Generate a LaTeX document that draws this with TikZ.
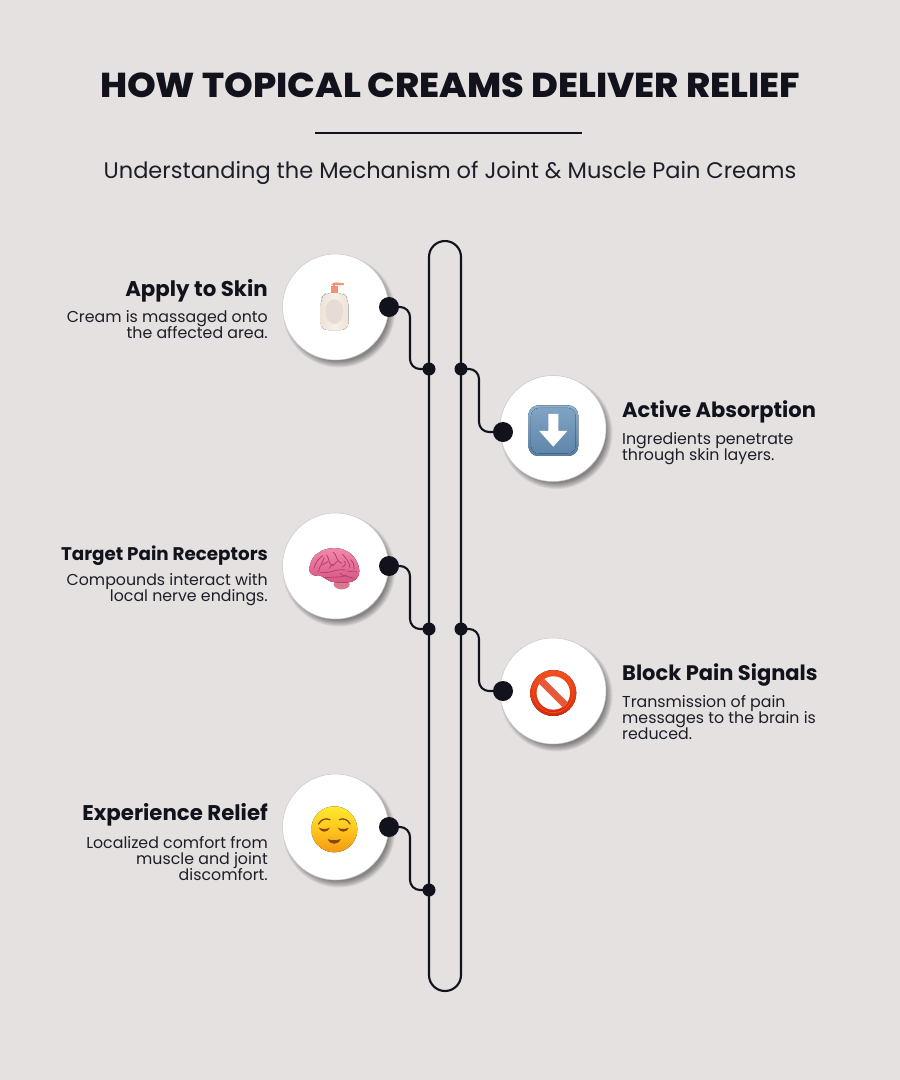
\documentclass[tikz,border=0pt]{standalone}
\usepackage{fontspec}
\setmainfont{Poppins}[BoldFont={Poppins Bold}]
\newfontfamily\titlefont{Poppins ExtraBold}[FakeStretch=1.06]
\usetikzlibrary{calc}
\newcommand{\bodyfont}{\fontsize{15.8}{16}\selectfont\setlength{\lineskiplimit}{-10pt}}
\definecolor{bg}{HTML}{E5E1E0}
\definecolor{ink}{HTML}{12121C}
\definecolor{txt}{HTML}{1E1E28}
\definecolor{brn}{HTML}{84480A}
\definecolor{fold}{HTML}{B0426A}
\definecolor{creamA}{HTML}{EDE4D8}
\definecolor{creamB}{HTML}{F6F0E8}
\definecolor{creamC}{HTML}{E6DCD5}
\definecolor{pump}{HTML}{EE9475}
\definecolor{keyA}{HTML}{8FB0CE}
\definecolor{keyB}{HTML}{567DA2}
\definecolor{keyC}{HTML}{7FA3C3}
\definecolor{keyD}{HTML}{5F86AA}
\definecolor{brA}{HTML}{D9788E}
\definecolor{brB}{HTML}{F28AAC}
\definecolor{brC}{HTML}{D85484}
\definecolor{noA}{HTML}{F4501E}
\definecolor{noB}{HTML}{D42A0C}
\definecolor{noC}{HTML}{E8583A}
\definecolor{faceA}{HTML}{FFE92F}
\definecolor{faceB}{HTML}{F29A12}
\definecolor{faceC}{HTML}{FFC61E}
\tikzset{
  conn/.style={draw=ink,line width=2.1pt,rounded corners=10pt},
  track/.style={draw=ink,line width=2.1pt,rounded corners=16pt,minimum width=32pt,minimum height=750pt,inner sep=0pt,outer sep=0pt},
  dotbig/.style={circle,fill=ink,minimum size=20pt,inner sep=0pt},
  dotsmall/.style={circle,fill=ink,minimum size=13pt,inner sep=0pt},
  disc/.style={circle,fill=white,draw=black!22,line width=.5pt,minimum size=106pt,inner sep=0pt},
  head/.style={font=\bfseries\fontsize{21}{24}\selectfont,text=ink,inner sep=0pt},
  body/.style={font=\bodyfont,text=txt,inner sep=0pt},
  lhead/.style={head,anchor=east},
  rhead/.style={head,anchor=west},
  lbody/.style={body,anchor=north east,align=right},
  rbody/.style={body,anchor=north west,align=left},
  zoomed/.style={x=.3333pt,y=-.3333pt},
  foldline/.style={draw=fold,line width=.8pt,line cap=round},
}
\newcommand{\softshadow}[2]{%
  \foreach \r in {56,55,...,50}{\fill[black,opacity=.07] (#1+3.5,#2+4.5) circle (\r pt);}%
}
\begin{document}
\begin{tikzpicture}[x=1pt,y=-1pt]
\useasboundingbox (0,0) rectangle (900,1080);
\fill[bg] (0,0) rectangle (900,1080);
% titles
\node[font=\titlefont\fontsize{34.5}{38}\selectfont,text=ink,inner sep=0pt] (title) at (450,85) {HOW TOPICAL CREAMS DELIVER RELIEF};
\coordinate (ruleL) at (315,132.5);
\coordinate (ruleR) at (582,132.5);
\draw[ink,line width=2pt] (ruleL) -- (ruleR);
\node[font=\fontsize{22.5}{26}\selectfont,text=txt,inner sep=0pt] (subtitle) at (450,172.5) {Understanding the Mechanism of Joint \& Muscle Pain Creams};
% track
\node[track] (trk) at (445,616) {};
% shadows and discs
\softshadow{335.5}{307}
\softshadow{553}{428.5}
\softshadow{335.5}{566}
\softshadow{553}{691}
\softshadow{335.5}{827}
\node[disc] (c1) at (335.5,307) {};
\node[disc] (c2) at (553,428.5) {};
\node[disc] (c3) at (335.5,566) {};
\node[disc] (c4) at (553,691) {};
\node[disc] (c5) at (335.5,827) {};
% dots
\node[dotbig] (d1) at (389,307) {};
\node[dotbig] (d2) at (503,432) {};
\node[dotbig] (d3) at (389,566) {};
\node[dotbig] (d4) at (503,691) {};
\node[dotbig] (d5) at (389,827) {};
\node[dotsmall] (j1) at (429,369) {};
\node[dotsmall] (j2) at (461,369) {};
\node[dotsmall] (j3) at (429,629) {};
\node[dotsmall] (j4) at (461,629) {};
\node[dotsmall] (j5) at (429,890) {};
\coordinate (b1) at (410,369);
\coordinate (b2) at (479,369);
\coordinate (b3) at (410,629);
\coordinate (b4) at (479,629);
\coordinate (b5) at (410,890);
\draw[conn] (d1.center) -| (b1) -- (j1.center);
\draw[conn] (j2.center) -| (b2 |- d2) -- (d2.center);
\draw[conn] (d3.center) -| (b3) -- (j3.center);
\draw[conn] (j4.center) -| (b4 |- d4) -- (d4.center);
\draw[conn] (d5.center) -| (b5) -- (j5.center);
% bottle
\begin{scope}[shift={(300,275)},zoomed]
  \fill[left color=creamA,right color=creamA,middle color=creamB,rounded corners=7pt]
    (78,53) -- (128,53) -- (145,70) -- (145,165) -- (62,165) -- (62,70) -- cycle;
  \fill[creamC] (103,110) ellipse (27 and 37);
  \fill[pump] (93,55) rectangle (113,34);
  \fill[pump] (99,34) rectangle (106,24);
  \fill[pump] (95,27) -- (106,22) -- (132,25) -- (132,30) -- (108,30) -- (95,30) -- cycle;
\end{scope}
% arrow key
\begin{scope}[shift={(270,230)},zoomed]
  \fill[top color=keyA,bottom color=keyB,rounded corners=10pt] (775,526) rectangle (925,678);
  \fill[top color=keyC,bottom color=keyD,rounded corners=8pt] (783,534) rectangle (917,670);
  \fill[white] (835,552) -- (865,552) -- (865,603) -- (892,603) -- (850,650) -- (808,603) -- (835,603) -- cycle;
\end{scope}
% brain
\begin{scope}[shift={(300,535)},zoomed]
  \fill[brA] (125,148) ellipse (24 and 15);
  \fill[top color=brB,bottom color=brC]
    (28,105) .. controls (28,85) and (40,58) .. (58,52)
    .. controls (75,38) and (115,35) .. (135,46)
    .. controls (160,55) and (178,85) .. (178,108)
    .. controls (178,130) and (160,145) .. (140,142)
    .. controls (115,143) and (90,143) .. (78,132)
    .. controls (65,125) and (60,118) .. (48,122)
    .. controls (38,122) and (28,115) .. (28,105) -- cycle;
  \draw[foldline] (42,100) .. controls (45,85) and (55,70) .. (68,62);
  \draw[foldline] (55,110) .. controls (58,95) and (70,80) .. (72,68);
  \draw[foldline] (62,112) .. controls (85,118) and (110,100) .. (135,105);
  \draw[foldline] (80,60) .. controls (90,75) and (85,90) .. (100,92);
  \draw[foldline] (100,52) .. controls (112,60) and (105,75) .. (125,85);
  \draw[foldline] (128,58) .. controls (138,70) and (148,80) .. (150,98);
  \draw[foldline] (75,128) .. controls (95,125) and (120,130) .. (140,120);
  \draw[foldline] (142,108) .. controls (155,112) and (165,105) .. (170,112);
  \draw[foldline] (120,115) .. controls (130,125) and (150,125) .. (160,130);
  \draw[foldline] (88,100) .. controls (92,88) and (104,92) .. (112,78);
  \draw[foldline] (66,90) .. controls (72,82) and (78,88) .. (84,80);
  \draw[foldline] (132,78) .. controls (140,85) and (136,92) .. (126,96);
  \draw[foldline] (152,74) .. controls (160,82) and (164,92) .. (162,102);
\end{scope}
% no entry
\begin{scope}[shift={(270,500)},zoomed]
  \fill[top color=noA,bottom color=noB] (850,579) circle (69);
  \fill[white] (850,579) circle (50);
  \draw[noC,line width=7pt] (813,542) -- (887,616);
  \draw[noA,line width=.7pt] (850,579) circle (59);
\end{scope}
% face
\begin{scope}[shift={(300,795)},zoomed]
  \fill[top color=faceA,bottom color=faceB,middle color=faceC] (103,103) circle (69);
  \draw[brn,line width=1.3pt,line cap=round] (56,87) .. controls (62,74) and (76,68) .. (90,74);
  \draw[brn,line width=1.3pt,line cap=round] (150,87) .. controls (144,74) and (130,68) .. (118,74);
  \fill[brn] (56,98) .. controls (66,103) and (80,103) .. (90,98) .. controls (83,114) and (63,114) .. (56,98) -- cycle;
  \fill[brn] (113,98) .. controls (122,103) and (136,103) .. (147,98) .. controls (140,114) and (120,114) .. (113,98) -- cycle;
  \fill[brn] (83,132) .. controls (95,137) and (110,137) .. (122,132) .. controls (115,151) and (90,151) .. (83,132) -- cycle;
\end{scope}
% labels
\node[lhead,font=\bfseries\fontsize{21.3}{24}\selectfont] (h1) at (268,290.5) {Apply to Skin};
\node[lbody] (t1) at (268,310) {Cream is massaged onto\\the affected area.};
\node[rhead] (h2) at (622,411.5) {Active Absorption};
\node[rbody] (t2) at (622,432) {Ingredients penetrate\\through skin layers.};
\node[lhead,font=\bfseries\fontsize{18.3}{22}\selectfont] (h3) at (268,555.5) {Target Pain Receptors};
\node[lbody] (t3) at (268,573) {Compounds interact with\\local nerve endings.};
\node[rhead] (h4) at (622,674.5) {Block Pain Signals};
\node[rbody] (t4) at (622,695) {Transmission of pain\\messages to the brain is\\reduced.};
\node[lhead,font=\bfseries\fontsize{21.3}{24}\selectfont] (h5) at (268,814.5) {Experience Relief};
\node[lbody] (t5) at (268,836) {Localized comfort from\\muscle and joint\\discomfort.};
\end{tikzpicture}
\end{document}
